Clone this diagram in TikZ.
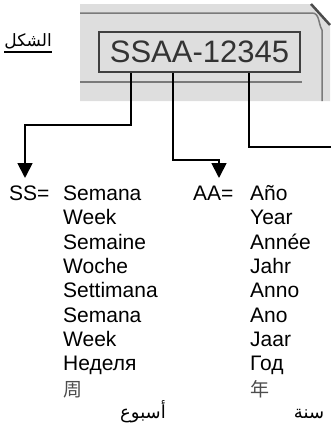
\documentclass[tikz,border=0pt]{standalone}
\usepackage{fontspec}
\setmainfont{Liberation Sans}
\newfontfamily\arabicfont[Script=Arabic]{DejaVu Sans}
\newfontfamily\cjkfont{Noto Sans CJK SC}
\TeXXeTstate=1
\usetikzlibrary{arrows.meta}
\definecolor{panelgray}{HTML}{DEDEDE}
\definecolor{edgegray}{HTML}{7A7A7A}
\definecolor{codegray}{HTML}{333333}
\begin{document}
\begin{tikzpicture}[x=1pt,y=-1pt,
  word/.style={anchor=base west,inner sep=0pt,font=\fontsize{21}{24}\selectfont},
  cjk/.style={anchor=base west,inner sep=0pt,font=\cjkfont\fontsize{19}{22}\selectfont,text=black!70},
  arab/.style={anchor=base,inner sep=0pt,font=\arabicfont\fontsize{18}{22}\selectfont},
  conn/.style={line width=1.8pt},
  arr/.style={conn,-{Triangle[width=15pt,length=15pt]}},
  edge/.style={draw=edgegray,line width=1.5pt}]
\useasboundingbox (0,0) rectangle (330,434);
% panel
\fill[panelgray] (80,4) -- (312,4) -- (330,24) -- (330,101) -- (80,101) -- cycle;
\draw[line width=2.5pt,black!70] (311,4) -- (330,25);
\draw[edge] (80,13) -- (312,13) to[out=0,in=120] (322,30) -- (322,101);
\draw[edge] (80,82) -- (302,82);
% code box
\node[draw=black!75,line width=1.5pt,minimum width=201pt,minimum height=40pt,inner sep=0pt,
      text=codegray,font=\fontsize{31}{34}\selectfont] (code) at (199.5,52) {SSAA-12345};
% title
\node[anchor=base east,inner sep=0pt,font=\arabicfont\fontsize{17}{22}\selectfont] (title) at (52,46) {\beginR الشكل\endR};
\draw[line width=1.2pt] ([yshift=-6pt]title.base west) -- ([yshift=-6pt]title.base east);
% connectors
\coordinate (t1) at (25,178);
\coordinate (t2) at (219,178);
\coordinate (t3) at (331,147);
\draw[arr] ([xshift=-68.5pt]code.south) -- ++(0,52) -| (t1);
\draw[arr] ([xshift=-26.5pt]code.south) -- ++(0,87) -| (t2);
\draw[conn] ([xshift=49.5pt]code.south) |- (t3);
% labels
\node[word] (ss) at (9,200.5) {SS=};
\node[word] (aa) at (193,200.5) {AA=};
\foreach \w [count=\i] in {Semana,Week,Semaine,Woche,Settimana,Semana,Week,Неделя}
  \node[word] (s\i) at (63,{200.5+24.3*(\i-1)}) {\w};
\foreach \w [count=\i] in {Año,Year,Année,Jahr,Anno,Ano,Jaar,Год}
  \node[word] (a\i) at (250,{200.5+24.3*(\i-1)}) {\w};
\node[cjk] (s9) at (63,396) {周};
\node[cjk] (a9) at (250,396) {年};
\node[arab] (s10) at (143,418) {\beginR أسبوع\endR};
\node[arab] (a10) at (309,418) {\beginR سنة\endR};
\end{tikzpicture}
\end{document}
